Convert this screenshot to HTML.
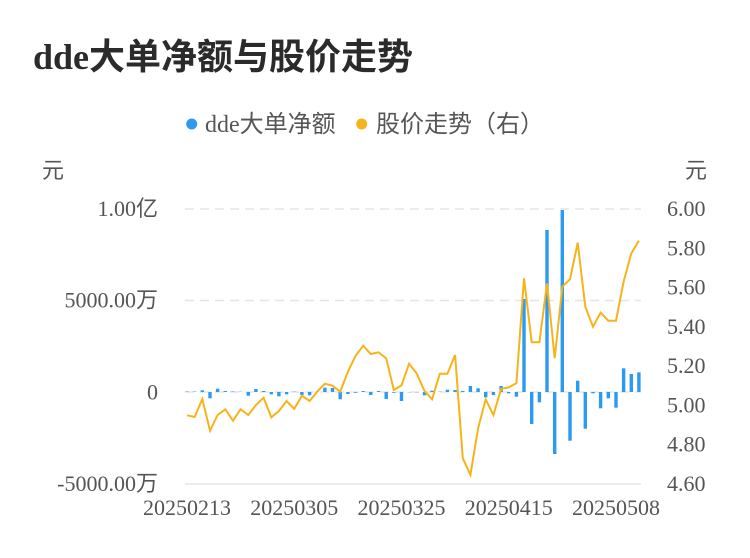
<!DOCTYPE html>
<html><head><meta charset="utf-8"><style>
html,body{margin:0;padding:0;background:#fff;}
svg{display:block;}
text{font-family:"Liberation Serif","Noto Sans CJK SC",serif;}
</style></head><body>
<svg width="750" height="558" viewBox="0 0 750 558" xmlns="http://www.w3.org/2000/svg">
<rect width="750" height="558" fill="#fff"/>
<text x="33" y="69" font-size="36" font-weight="bold" fill="#2b2b2b">dde大单净额与股价走势</text>
<circle cx="191.7" cy="124" r="5.5" fill="#2a9bf1"/>
<text x="205" y="132" font-size="24" fill="#555">dde大单净额</text>
<circle cx="361.7" cy="124" r="5.5" fill="#f6b31b"/>
<text x="376" y="132" font-size="24" fill="#555">股价走势（右）</text>
<text x="42" y="178" font-size="22" fill="#555">元</text>
<text x="685" y="178" font-size="22" fill="#555">元</text>
<g stroke="#e6e6e6" stroke-width="1.5" stroke-dasharray="9,6">
<line x1="185" y1="209" x2="641" y2="209"/>
<line x1="185" y1="300.5" x2="641" y2="300.5"/>
<line x1="185" y1="392" x2="641" y2="392"/>
</g>
<line x1="185" y1="484" x2="641" y2="484" stroke="#ececec" stroke-width="2"/>
<g font-size="22" fill="#555" text-anchor="end">
<text x="158" y="216">1.00亿</text>
<text x="158" y="307.5">5000.00万</text>
<text x="158" y="399.5">0</text>
<text x="158" y="491">-5000.00万</text>
</g>
<g font-size="22" fill="#555">
<text x="667" y="216">6.00</text>
<text x="667" y="255.3">5.80</text>
<text x="667" y="294.6">5.60</text>
<text x="667" y="333.9">5.40</text>
<text x="667" y="373.1">5.20</text>
<text x="667" y="412.4">5.00</text>
<text x="667" y="451.7">4.80</text>
<text x="667" y="491">4.60</text>
</g>
<g font-size="22" fill="#555" text-anchor="middle">
<text x="187" y="515">20250213</text>
<text x="294.2" y="515">20250305</text>
<text x="401.5" y="515">20250325</text>
<text x="508.7" y="515">20250415</text>
<text x="616" y="515">20250508</text>
</g>
<g fill="#2a9bf1">
<rect x="185.3" y="391.3" width="3.4" height="0.7" opacity="0.6"/>
<rect x="193.0" y="391.3" width="3.4" height="0.7" opacity="0.6"/>
<rect x="200.6" y="390.3" width="3.4" height="1.7"/>
<rect x="208.3" y="392" width="3.4" height="6.3"/>
<rect x="215.9" y="388.7" width="3.4" height="3.3"/>
<rect x="223.6" y="391" width="3.4" height="1"/>
<rect x="231.3" y="391.3" width="3.4" height="0.7" opacity="0.6"/>
<rect x="238.9" y="391.5" width="3.4" height="0.5" opacity="0.6"/>
<rect x="246.6" y="392" width="3.4" height="3.7"/>
<rect x="254.2" y="389" width="3.4" height="3"/>
<rect x="261.9" y="391" width="3.4" height="1"/>
<rect x="269.6" y="392" width="3.4" height="2.3"/>
<rect x="277.2" y="392" width="3.4" height="4.3"/>
<rect x="284.9" y="392" width="3.4" height="2.3"/>
<rect x="292.5" y="391.5" width="3.4" height="0.5" opacity="0.6"/>
<rect x="300.2" y="392" width="3.4" height="3"/>
<rect x="307.9" y="392" width="3.4" height="3.3"/>
<rect x="315.5" y="391.5" width="3.4" height="0.5" opacity="0.6"/>
<rect x="323.2" y="387.7" width="3.4" height="4.3"/>
<rect x="330.8" y="388" width="3.4" height="4"/>
<rect x="338.5" y="392" width="3.4" height="7.3"/>
<rect x="346.2" y="392" width="3.4" height="2"/>
<rect x="353.8" y="392" width="3.4" height="0.8"/>
<rect x="361.5" y="391" width="3.4" height="1"/>
<rect x="369.1" y="392" width="3.4" height="3"/>
<rect x="376.8" y="391" width="3.4" height="1"/>
<rect x="384.5" y="392" width="3.4" height="7"/>
<rect x="392.1" y="392" width="3.4" height="0.8"/>
<rect x="399.8" y="392" width="3.4" height="9"/>
<rect x="407.4" y="392" width="3.4" height="0.5" opacity="0.6"/>
<rect x="415.1" y="392" width="3.4" height="0.5" opacity="0.6"/>
<rect x="422.8" y="392" width="3.4" height="3.3"/>
<rect x="430.4" y="390.7" width="3.4" height="1.3"/>
<rect x="438.1" y="391.5" width="3.4" height="0.5" opacity="0.6"/>
<rect x="445.7" y="389.7" width="3.4" height="2.3"/>
<rect x="453.4" y="390" width="3.4" height="2"/>
<rect x="461.1" y="391" width="3.4" height="1"/>
<rect x="468.7" y="386" width="3.4" height="6"/>
<rect x="476.4" y="388.3" width="3.4" height="3.7"/>
<rect x="484.0" y="392" width="3.4" height="5.3"/>
<rect x="491.7" y="392" width="3.4" height="3"/>
<rect x="499.4" y="386" width="3.4" height="6"/>
<rect x="507.0" y="392" width="3.4" height="1.3"/>
<rect x="514.7" y="392" width="3.4" height="4.7"/>
<rect x="522.3" y="299" width="3.4" height="93"/>
<rect x="530.0" y="392" width="3.4" height="32"/>
<rect x="537.7" y="392" width="3.4" height="10.3"/>
<rect x="545.3" y="230" width="3.4" height="162"/>
<rect x="553.0" y="392" width="3.4" height="62"/>
<rect x="560.6" y="210" width="3.4" height="182"/>
<rect x="568.3" y="392" width="3.4" height="48.7"/>
<rect x="576.0" y="380.7" width="3.4" height="11.3"/>
<rect x="583.6" y="392" width="3.4" height="36.7"/>
<rect x="591.3" y="392" width="3.4" height="1.3"/>
<rect x="598.9" y="392" width="3.4" height="16.3"/>
<rect x="606.6" y="392" width="3.4" height="6.3"/>
<rect x="614.3" y="392" width="3.4" height="15.7"/>
<rect x="621.9" y="368.3" width="3.4" height="23.7"/>
<rect x="629.6" y="374" width="3.4" height="18"/>
<rect x="637.2" y="372.3" width="3.4" height="19.7"/>
</g>
<polyline fill="none" stroke="#f6b31b" stroke-width="2" stroke-linejoin="miter" points="
187,415.3 194.7,417 202.3,399 210,430.7 217.6,415 225.3,409.3 233,420.7 240.6,409.3 248.3,415 255.9,405 263.6,397.7 271.3,417.3 278.9,411 286.6,401 294.2,409 301.9,395.7 309.6,401 317.2,391.7 324.9,383.7 332.5,385.7 340.2,391.7 347.9,371.7 355.5,356 363.2,345.7 370.8,354 378.5,352.3 386.2,358.3 393.8,390 401.5,385.3 409.1,363.7 416.8,373.7 424.5,391 432.1,399.3 439.8,373.7 447.4,373.7 455.1,355 462.8,458.3 470.4,475 478.1,428.3 485.7,399.3 493.4,415 501.1,389 508.7,387.3 516.4,383.3 524,278.3 531.7,342.3 539.4,342.3 547,283.3 554.7,358.3 562.3,286.7 570,279.3 577.7,242.7 585.3,306.7 593,326.7 600.6,312.7 608.3,320.7 616,320.7 623.6,281.7 631.3,253.3 638.9,240.7"/>
</svg>
</body></html>
